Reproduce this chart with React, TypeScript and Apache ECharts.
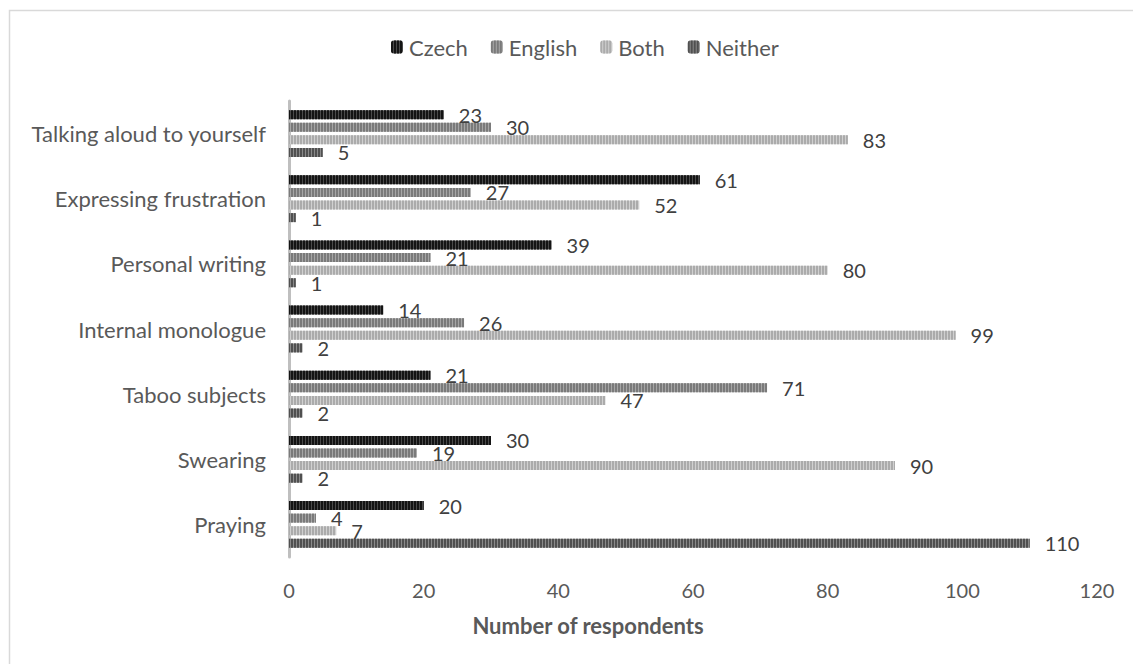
import React, { useEffect, useRef } from "react";
import * as echarts from "echarts";

const categories = [
  "Praying",
  "Swearing",
  "Taboo subjects",
  "Internal monologue",
  "Personal writing",
  "Expressing frustration",
  "Talking aloud to yourself",
];
const seriesNames = ["Czech", "English", "Both", "Neither"];
const czech = [20, 30, 21, 14, 39, 61, 23];
const english = [4, 19, 71, 26, 21, 27, 30];
const both = [7, 90, 47, 99, 80, 52, 83];
const neither = [110, 2, 2, 2, 1, 1, 5];
const xTicks = [0, 20, 40, 60, 80, 100, 120];

const FONT = "Lato";
const FS_NUM = 20;
const FS_TXT = 22;
const baseColors = ["#4a4a4a", "#a6a6a6", "#d0d0d0", "#8a8a8a"];
const stripeColors = ["#141414", "#7a7a7a", "#ababab", "#505050"];

export default function App() {
  const ref = useRef<HTMLDivElement>(null);
  useEffect(() => {
    if (!ref.current) return;
    const chart = echarts.init(ref.current, undefined, { renderer: "svg" });
    const data = [czech, english, both, neither];
    chart.setOption({
      animation: false,
      backgroundColor: "#ffffff",
      textStyle: { fontFamily: FONT },
      graphic: [
        {
          type: "rect",
          shape: { x: 9.5, y: 10.5, width: 1140, height: 680 },
          style: { fill: "none", stroke: "#d9d9d9", lineWidth: 1.5 },
          silent: true,
        },
      ],
      legend: {
        data: seriesNames,
        left: 386,
        top: 31,
        itemWidth: 12,
        itemHeight: 13,
        itemGap: 23,
        textStyle: { fontFamily: FONT, fontSize: FS_TXT, color: "#595959", padding: [0, 0, 0, 1] },
      },
      grid: { left: 289, right: 36, top: 101, bottom: 107, containLabel: false },
      xAxis: {
        type: "value",
        min: xTicks[0],
        max: xTicks[xTicks.length - 1],
        interval: 20,
        splitLine: { show: false },
        axisLine: { show: false },
        axisTick: { show: false },
        axisLabel: { fontFamily: FONT, fontSize: FS_NUM, color: "#595959", margin: 23 },
        name: "Number of respondents",
        nameLocation: "middle",
        nameGap: 57,
        nameTextStyle: {
          fontFamily: FONT,
          fontSize: FS_TXT,
          fontWeight: "bold",
          color: "#595959",
          padding: [0, 210, 0, 0],
        },
      },
      yAxis: {
        type: "category",
        data: categories,
        axisLine: { show: true, lineStyle: { color: "#bfbfbf", width: 3 } },
        axisTick: { show: false },
        axisLabel: { fontFamily: FONT, fontSize: FS_TXT, color: "#595959", margin: 23 },
      },
      series: seriesNames.map((name, i) => ({
        name,
        type: "bar",
        data: data[i],
        barWidth: 9,
        barGap: "40%",
        itemStyle: {
          color: baseColors[i],
          decal: {
            symbol: "rect",
            symbolSize: 1,
            dashArrayX: [2, 1],
            dashArrayY: [4, 0],
            rotation: 0,
            color: stripeColors[i],
          },
        },
        label: {
          show: true,
          position: "right",
          distance: 15,
          offset: [0, 0],
          fontFamily: FONT,
          fontSize: FS_NUM,
          color: "#404040",
        },
      })),
    });
    return () => chart.dispose();
  }, []);
  return (
    <div
      ref={ref}
      style={{ position: "fixed", left: 0, top: 0, width: 1133, height: 664, background: "#fff" }}
    />
  );
}
